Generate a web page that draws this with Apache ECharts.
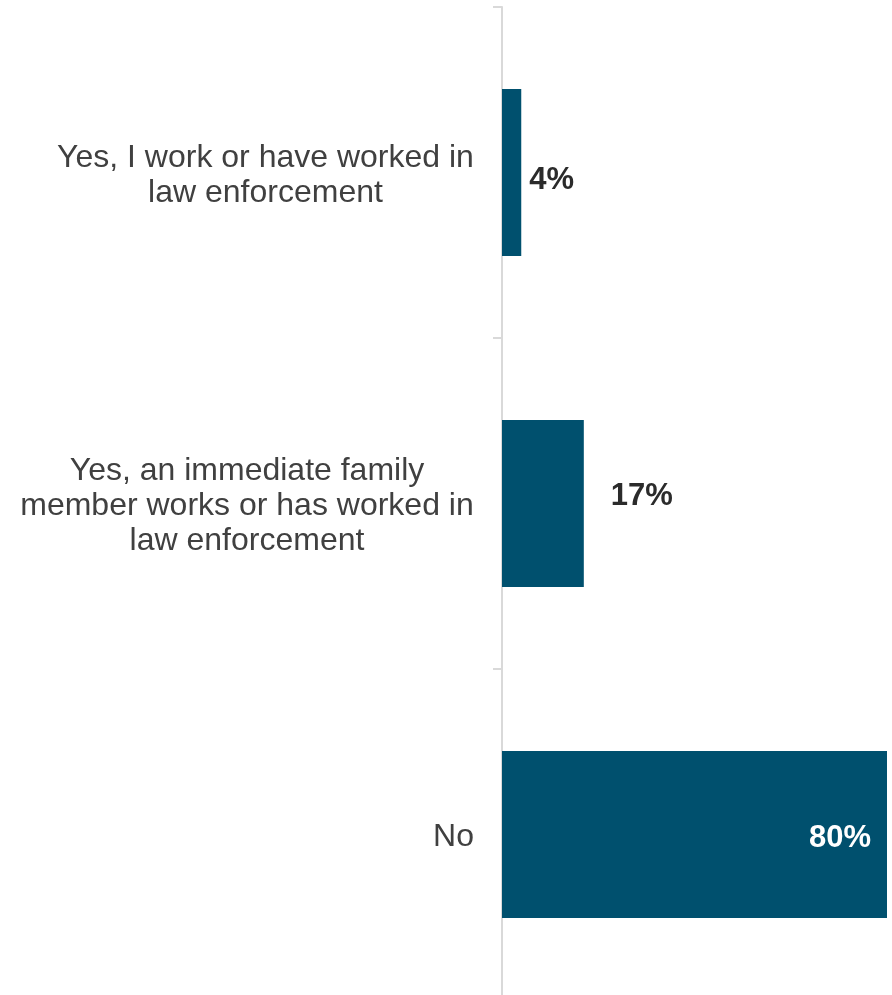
<!DOCTYPE html>
<html><head><meta charset="utf-8">
<script src="https://cdn.jsdelivr.net/npm/echarts@6/dist/echarts.min.js"></script>
<style>html,body{margin:0;padding:0;background:#fff}#c{width:892px;height:995px}</style>
</head><body><div id="c"></div>
<script>
var categories = ["Yes, I work or have worked in\nlaw enforcement", "Yes, an immediate family\nmember works or has worked in\nlaw enforcement", "No"];
var values = [4, 17, 80];
var labelText = ["4%", "17%", "80%"];

var FONT = 'Liberation Sans, Arial, sans-serif';
var CAT_SIZE = 32;
var ctx = document.createElement('canvas').getContext('2d');
ctx.font = CAT_SIZE + 'px ' + FONT;
var rich = {};
categories.forEach(function (c, i) {
  var w = 0;
  c.split('\n').forEach(function (l) { w = Math.max(w, ctx.measureText(l).width); });
  rich['c' + i] = {width: Math.ceil(w), align: 'center', fontSize: CAT_SIZE, lineHeight: 35,
    color: '#404040', fontFamily: FONT};
});

var chart = echarts.init(document.getElementById('c'), null, {renderer: 'canvas'});
var data = values.map(function (v, i) {
  var item = {value: v};
  if (i === 0) item.label = {position: 'right', distance: 8, color: '#2b2b2b', offset: [0, 8]};
  if (i === 1) item.label = {position: 'right', distance: 27, color: '#2b2b2b', offset: [0, -7]};
  if (i === 2) item.label = {position: 'insideRight', distance: 16, color: '#ffffff', offset: [0, 4]};
  return item;
});
chart.setOption({
  animation: false,
  grid: {left: 502, top: 7, width: 385, height: 993, containLabel: false, outerBoundsMode: 'none'},
  xAxis: {type: 'value', min: 0, max: 80, show: false},
  yAxis: {
    type: 'category', inverse: true, data: categories,
    axisLine: {show: true, lineStyle: {color: '#d9d9d9', width: 2}},
    axisTick: {show: true, length: 9, lineStyle: {color: '#d9d9d9', width: 2}},
    axisLabel: {margin: 28, color: '#404040', fontSize: CAT_SIZE, lineHeight: 35,
      fontFamily: FONT, rich: rich, padding: [6, 0, 0, 0],
      formatter: function (v, idx) {
        return v.split('\n').map(function (l) { return '{c' + idx + '|' + l + '}'; }).join('\n');
      }},
    splitLine: {show: false}
  },
  series: [{
    type: 'bar', data: data, barCategoryGap: '49.5%',
    itemStyle: {color: '#00506e'},
    label: {show: true, fontSize: 31, fontWeight: 'bold', fontFamily: FONT,
      formatter: function (p) { return labelText[p.dataIndex]; }}
  }]
});
</script></body></html>
